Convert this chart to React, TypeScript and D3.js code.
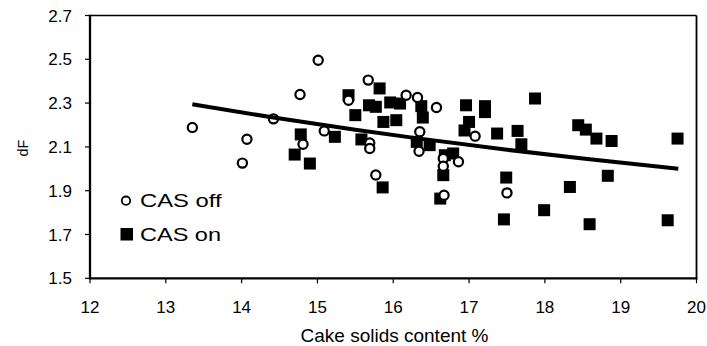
import React from "react";
import * as d3 from "d3";

const xTicks = [12, 13, 14, 15, 16, 17, 18, 19, 20];
const yTicks = [1.5, 1.7, 1.9, 2.1, 2.3, 2.5, 2.7];

const casOffX = [13.35, 14.07, 14.01, 14.42, 14.77, 14.81, 15.01, 15.09, 15.41, 15.67, 15.69, 15.69, 15.77, 16.17, 16.32, 16.57, 16.35, 16.34, 16.66, 16.86, 16.66, 16.67, 17.08, 17.5];
const casOffY = [2.189, 2.135, 2.026, 2.228, 2.339, 2.112, 2.496, 2.173, 2.313, 2.405, 2.118, 2.093, 1.972, 2.336, 2.326, 2.28, 2.169, 2.08, 2.047, 2.032, 2.012, 1.879, 2.149, 1.89];

const casOnX = [14.78, 14.7, 14.9, 15.23, 15.41, 15.5, 15.58, 15.68, 15.77, 15.82, 15.87, 15.86, 15.96, 16.09, 16.04, 16.37, 16.39, 16.31, 16.48, 16.68, 16.79, 16.66, 16.62, 16.96, 17.0, 16.94, 17.21, 17.21, 17.37, 17.64, 17.69, 17.87, 17.49, 17.46, 17.99, 18.33, 18.44, 18.54, 18.68, 18.88, 18.83, 18.59, 19.62, 19.75];
const casOnY = [2.157, 2.065, 2.024, 2.146, 2.336, 2.245, 2.134, 2.29, 2.283, 2.367, 2.214, 1.915, 2.303, 2.298, 2.222, 2.286, 2.234, 2.123, 2.108, 2.062, 2.07, 1.971, 1.864, 2.29, 2.214, 2.175, 2.286, 2.259, 2.161, 2.173, 2.112, 2.321, 1.96, 1.769, 1.811, 1.917, 2.199, 2.179, 2.138, 2.127, 1.968, 1.747, 1.765, 2.138];

const trendX = [13.35, 14.4, 15.5, 16.3, 17.5, 18.5, 19.76];
const trendY = [2.295, 2.235, 2.178, 2.14, 2.087, 2.047, 2.0];

const W = 707;
const H = 346;
const L = 90, R = 696.5, T = 15.5, B = 278.3;
const FONT = "'Liberation Sans', Arial, sans-serif";

export default function App() {
  const x = d3.scaleLinear().domain([12, 20]).range([L, R]);
  const y = d3.scaleLinear().domain([1.5, 2.7]).range([B, T]);
  const line = d3
    .line<number>()
    .x((_, i) => x(trendX[i]))
    .y((_, i) => y(trendY[i]))
    .curve(d3.curveMonotoneX);
  const sq = 12;
  return (
    <svg
      width={W}
      height={H}
      style={{ position: "fixed", left: 0, top: 0, background: "#fff" }}
      fontFamily={FONT}
    >
      <rect x={0} y={0} width={W} height={H} fill="#fff" />
      {/* frame */}
      <line x1={L} x2={R} y1={T} y2={T} stroke="#000" strokeWidth={1.5} />
      <line x1={R} x2={R} y1={T} y2={B} stroke="#000" strokeWidth={1.8} />
      <line x1={L} x2={L} y1={T - 0.75} y2={B + 1} stroke="#000" strokeWidth={2.3} />
      <line x1={L - 1} x2={R + 1} y1={B} y2={B} stroke="#000" strokeWidth={2.2} />
      {/* y ticks */}
      {yTicks.map((t) => (
        <g key={"y" + t}>
          <line x1={L - 5} x2={L} y1={y(t)} y2={y(t)} stroke="#000" strokeWidth={1.2} />
          <text x={72} y={y(t)} dy="0.36em" textAnchor="end" fontSize={17} fill="#000">
            {t.toFixed(1)}
          </text>
        </g>
      ))}
      {/* x ticks */}
      {xTicks.map((t) => (
        <g key={"x" + t}>
          <line x1={x(t)} x2={x(t)} y1={B} y2={B + 5} stroke="#000" strokeWidth={1.2} />
          <text x={x(t)} y={313.3} textAnchor="middle" fontSize={17} fill="#000">
            {t}
          </text>
        </g>
      ))}
      <text x={394.5} y={341.5} textAnchor="middle" fontSize={19} fill="#000">
        Cake solids content %
      </text>
      <text
        transform={`translate(28,148) rotate(-90)`}
        textAnchor="middle"
        fontSize={14.5}
        fill="#000"
      >
        dF
      </text>
      {/* CAS on squares */}
      {casOnX.map((v, i) => (
        <rect
          key={"on" + i}
          x={x(v) - sq / 2}
          y={y(casOnY[i]) - sq / 2}
          width={sq}
          height={sq}
          fill="#000"
        />
      ))}
      {/* CAS off circles */}
      {casOffX.map((v, i) => (
        <circle
          key={"off" + i}
          cx={x(v)}
          cy={y(casOffY[i])}
          r={4.6}
          fill="#fff"
          stroke="#000"
          strokeWidth={2.2}
        />
      ))}
      {/* trend */}
      <path d={line(trendX) || ""} fill="none" stroke="#000" strokeWidth={4} strokeLinecap="butt" />
      {/* legend */}
      <circle cx={126} cy={200.7} r={4.2} fill="#fff" stroke="#000" strokeWidth={1.8} />
      <text x={140} y={207.2} fontSize={18.5} fill="#000" textLength={81.5} lengthAdjust="spacingAndGlyphs">
        CAS off
      </text>
      <rect x={120.5} y={228} width={12.5} height={12.5} fill="#000" />
      <text x={140} y={240.8} fontSize={18.5} fill="#000" textLength={81} lengthAdjust="spacingAndGlyphs">
        CAS on
      </text>
    </svg>
  );
}
